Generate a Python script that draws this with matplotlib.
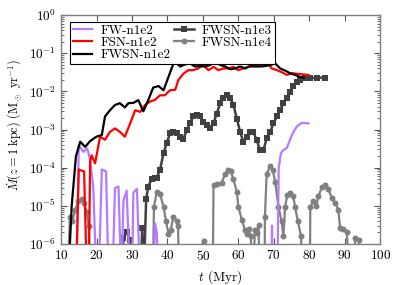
import numpy as np
import matplotlib
matplotlib.use("Agg")
import matplotlib.pyplot as plt

plt.rcParams['font.family'] = ['cmr10', 'DejaVu Serif']
plt.rcParams['mathtext.fontset'] = 'cm'
plt.rcParams['axes.formatter.use_mathtext'] = True

LOW = 1e-7

# FW-n1e2
fw_t = [14.3, 15.0, 16.3, 17.4, 18.2, 19.1, 20.0, 20.6, 21.5, 22.7, 23.4, 24.5, 25.2, 26.2, 27.0,
        27.6, 28.5, 29.5, 30.0, 30.4, 31.4, 32.3, 36.0, 36.5, 37.0, 37.5,
        69.3, 69.5, 69.7, 71.0, 71.4, 72.0, 72.7, 73.7, 74.6, 75.5, 76.5, 77.9, 79.8]
fw_v = [LOW, 3.9e-4, 2.6e-4, 3.2e-4, 1.6e-4, 3e-5, LOW, LOW, 9e-5, 8e-5, LOW, LOW, 2.9e-5, 3.2e-5, LOW,
        1.4e-5, 2.5e-5, LOW, LOW, 2.2e-5, 2.8e-5, LOW, LOW, 3.5e-6, 2e-6, LOW,
        LOW, 3e-6, LOW, LOW, 1e-4, 2.4e-4, 2.9e-4, 3.3e-4, 5.5e-4, 8.5e-4, 1.2e-3, 1.5e-3, 1.45e-3]

# FSN-n1e2
fsn_t = [14.2, 15.0, 15.6, 16.5, 17.3, 17.8, 18.2, 18.6, 19.6, 21.0, 22.4, 23.8, 25.2, 26.6, 28.0,
         29.5, 30.9, 32.3, 33.7, 35.1, 36.5, 37.9, 39.3, 40.7, 42.2, 43.1, 44.5, 45.9, 47.3,
         48.7, 50.1, 51.6, 53.0, 54.4, 55.8, 57.2, 58.6, 60.0, 61.4, 62.8, 64.3, 65.7, 67.1,
         68.5, 69.4, 70.9, 72.2, 73.7, 75.1, 76.5, 77.9, 79.8]
fsn_v = [LOW, 9e-5, 8.5e-5, 8e-5, LOW, LOW, 1.5e-4, 2.1e-4, 1.3e-4, 6.5e-4, 5.4e-4, 8.7e-4, 1.07e-3, 8.7e-4, 6.5e-4,
         1.45e-3, 3.2e-3, 2.9e-3, 4.4e-3, 5.4e-3, 6e-3, 7.9e-3, 7.9e-3, 1.07e-2, 1.1e-2, 2e-2, 2.9e-2, 3.6e-2, 3.6e-2,
         4e-2, 4.9e-2, 3.6e-2, 4.4e-2, 3.6e-2, 4e-2, 4e-2, 4.4e-2, 3.6e-2, 4e-2, 4.4e-2, 4.6e-2, 4.9e-2, 5.4e-2,
         5.4e-2, 4e-2, 3.6e-2, 3.2e-2, 2.7e-2, 3e-2, 2.9e-2, 2.8e-2, 2.7e-2]

# FWSN-n1e2
fwsn2_t = [12.0, 13.0, 14.2, 15.4, 16.8, 18.2, 20.0, 21.5, 22.4, 23.8, 25.2, 26.6, 28.0, 29.0, 30.4,
           31.8, 33.2, 34.6, 36.0, 37.5, 38.9, 40.3, 41.7, 42.6, 43.6, 45.0, 46.4, 47.8, 49.2,
           50.6, 52.0, 53.4, 54.9, 56.3, 57.7, 59.1, 60.5, 61.9, 63.3, 64.7, 66.1, 67.5, 69.0,
           70.4, 71.8, 73.2, 74.6, 76.0, 77.4, 78.4]
fwsn2_v = [LOW, 1e-5, 2e-4, 4.8e-4, 3.5e-4, 5e-4, 6.5e-4, 7.2e-4, 2.2e-3, 3.2e-3, 4.4e-3, 4.9e-3, 3.8e-3, 4.9e-3, 5e-3,
           5.9e-3, 3e-3, 5.9e-3, 1.26e-2, 1.38e-2, 1.07e-2, 2.4e-2, 5.4e-2, 5.4e-2, 4.5e-2, 5.1e-2, 5.4e-2, 4.5e-2, 4.6e-2,
           4.5e-2, 4.9e-2, 6e-2, 4.9e-2, 4.5e-2, 3.8e-2, 4e-2, 4.5e-2, 4e-2, 4.6e-2, 4.5e-2, 4.5e-2, 4.6e-2, 4.9e-2,
           5.4e-2, 4e-2, 3.5e-2, 3e-2, 2.7e-2, 2.4e-2, 2.3e-2]

# FWSN-n1e3
fwsn3_t = [27.0, 27.6, 28.5, 29.4, 30.0, 32.4, 32.9, 33.3, 34.0, 34.6, 35.6, 36.5, 37.0, 37.9, 38.9, 39.8,
           40.7, 41.7, 42.6, 43.6, 44.5, 45.5, 46.4, 47.3, 48.3, 49.2, 50.1, 51.1, 52.0, 53.0,
           53.9, 54.9, 55.8, 56.7, 57.7, 58.6, 59.6, 60.5, 61.4, 62.4, 63.3, 64.2, 65.2, 66.1,
           67.1, 68.0, 69.0, 69.9, 70.9, 71.8, 72.7, 73.7, 74.6, 75.5, 76.5, 77.4, 78.8, 80.2,
           82.1, 84.5]
fwsn3_v = [LOW, 1.4e-6, 2.1e-6, 1.3e-6, LOW, LOW, 2.7e-6, LOW, 1.5e-5, 3.2e-5, 5.2e-5, 5.4e-5, 5.5e-5, 8.7e-5, 2.4e-4, 4.4e-4,
           7.9e-4, 8.5e-4, 7.9e-4, 6.5e-4, 5.6e-4, 9.8e-4, 1.5e-3, 2.2e-3, 2.4e-3, 2.2e-3, 1.6e-3, 1.3e-3, 1.07e-3, 1.45e-3,
           2.6e-3, 4.9e-3, 6.9e-3, 7.9e-3, 6.9e-3, 4.5e-3, 1.9e-3, 8.7e-4, 4.8e-4, 6.5e-4, 8.7e-4, 8.7e-4, 5.3e-4, 2.9e-4,
           2.9e-4, 5.9e-4, 8.7e-4, 1.45e-3, 2.2e-3, 3.2e-3, 4.9e-3, 6.6e-3, 9.8e-3, 1.38e-2, 1.78e-2, 2.04e-2, 2.2e-2, 2.2e-2,
           2.3e-2, 2.3e-2]

# FWSN-n1e4
fwsn4_t = [11.8, 12.5, 13.2, 14.0, 14.9, 15.8, 16.5, 17.2, 17.8, 18.3,
           35.9, 36.2, 37.0, 37.9, 38.9, 39.6, 40.3, 40.9, 41.7, 42.6, 43.0, 43.3,
           50.4,
           52.8, 53.0, 54.0, 55.3, 56.3, 57.2, 57.9, 58.6, 59.6, 60.0, 61.0, 61.9, 62.4, 62.9, 63.5, 64.0,
           64.7, 65.2, 65.7, 66.0,
           67.4, 67.5, 68.0, 69.0, 69.7, 70.4, 71.3, 72.2, 72.7, 73.2, 73.8, 74.6, 75.5, 76.0, 76.8, 77.7, 78.0,
           80.2, 80.3, 81.2, 82.0, 82.6, 83.6, 84.5, 85.4, 86.4, 87.3, 88.2, 88.7, 89.6, 90.6, 91.4,
           92.4, 93.0, 94.0, 94.6]
fwsn4_v = [LOW, 5e-6, 4e-6, 8e-6, 1.3e-5, 1.5e-5, 1.2e-5, 7e-6, 3e-6, LOW,
           LOW, 9.5e-6, 2.3e-5, 2.1e-5, 9.5e-6, 4e-6, 1.8e-6, 2.3e-6, 5.2e-6, 4e-6, 3e-6, LOW,
           1.2e-6,
           LOW, 3.5e-5, 3.7e-5, 4e-5, 7e-5, 8.5e-5, 8e-5, 5e-5, 2.3e-5, 9.5e-6, 4.3e-6, 2.3e-6, 1.8e-6, 2.4e-6, 1.6e-6, LOW,
           2.3e-6, 1.9e-6, 3.2e-6, LOW,
           LOW, 5.2e-6, 7e-5, 1.1e-4, 8.7e-5, 4.3e-5, 9.5e-6, 3.9e-6, 1.6e-6, 9.5e-6, 1.9e-5, 2.2e-5, 1.8e-5, 9.5e-6, 3.9e-6, 1.6e-6, LOW,
           LOW, 9.5e-6, 1.3e-5, 1e-5, 1.8e-5, 3.1e-5, 3.6e-5, 2.7e-5, 1.6e-5, 1.2e-5, 8e-6, 2.7e-6, 2.5e-6, 2.1e-6, LOW,
           LOW, 1.4e-6, 1.3e-6, LOW]

fig = plt.figure(figsize=(4.07, 2.85), dpi=100)
ax = fig.add_axes([0.150, 0.144, 0.784, 0.803])

ax.plot(fw_t, fw_v, color='#b57aff', lw=1.6, label='FW-n1e2', zorder=3)
ax.plot(fsn_t, fsn_v, color='#ff0000', lw=1.6, label='FSN-n1e2', zorder=4)
ax.plot(fwsn2_t, fwsn2_v, color='#000000', lw=1.6, label='FWSN-n1e2', zorder=5)
ax.plot(fwsn3_t, fwsn3_v, color='#404040', lw=1.8, marker='s', ms=4.8, mew=0,
        label='FWSN-n1e3', zorder=2)
ax.plot(fwsn4_t, fwsn4_v, color='#808080', lw=1.6, marker='o', ms=4.3, mew=0,
        label='FWSN-n1e4', zorder=2)

ax.set_yscale('log')
ax.set_xlim(10, 100)
ax.set_ylim(1e-6, 1)
ax.set_xticks(range(10, 101, 10))
ax.tick_params(which='both', direction='in', top=True, right=True, labelsize=9.5,
               color='#555555')
ax.tick_params(which='major', length=4)
ax.tick_params(which='minor', length=2)
for s in ax.spines.values():
    s.set_color('#808080')
    s.set_linewidth(1.0)

ax.set_xlabel(r'$t$ (Myr)', fontsize=9.5)
ax.set_ylabel(r'$\dot{M}(z=1\ \mathrm{kpc})\ (\mathrm{M}_\odot\ \mathrm{yr}^{-1})$', fontsize=8.8)
ax.yaxis.set_label_coords(-0.115, 0.52)

leg = ax.legend(loc='upper left', ncol=2, fontsize=9.5, frameon=True, fancybox=False,
                edgecolor='black', framealpha=1, borderpad=0.2, labelspacing=0.0,
                handlelength=1.5, columnspacing=0.3, handletextpad=0.6,
                borderaxespad=0.0, bbox_to_anchor=(0.028, 0.97))
leg.get_frame().set_linewidth(0.8)

fig.savefig('out.png', dpi=100)
